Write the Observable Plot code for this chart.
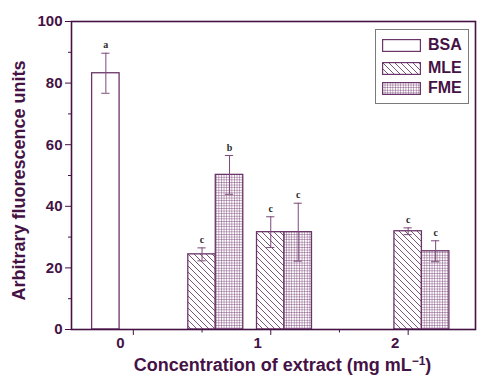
<!DOCTYPE html>
<html><head><meta charset="utf-8">
<script src="https://cdn.jsdelivr.net/npm/d3@7"></script>
<script src="https://cdn.jsdelivr.net/npm/@observablehq/plot@0.6"></script>
<style>
body{margin:0;background:#fff;}
#wrap{position:relative;width:496px;height:383px;font-family:"Liberation Sans",Arial,sans-serif;}
#legend{position:absolute;left:375px;top:29px;width:92px;height:73px;border:1.5px solid #7a7a7a;background:#fff;}
.item{position:absolute;left:6px;height:14px;display:flex;align-items:center;}
.item span{margin-left:7px;font-weight:bold;font-size:16px;color:#451245;line-height:14px;}
</style>
</head><body><div id="wrap"></div>
<script>
// ---- data ----
const concentrations = [0, 0.5, 1, 2];
const seriesNames = ["BSA", "MLE", "FME"];
const bsaValues = [83.2, null, null, null];
const bsaErrors = [6.5, null, null, null];
const bsaLetters = ["a", null, null, null];
const mleValues = [null, 24.4, 31.6, 31.9];
const mleErrors = [null, 2.1, 5.0, 1.1];
const mleLetters = [null, "c", "c", "c"];
const fmeValues = [null, 50.2, 31.6, 25.4];
const fmeErrors = [null, 6.3, 9.4, 3.4];
const fmeLetters = [null, "b", "c", "c"];
const xTickLabels = [0, 1, 2];
const xMinorTicks = [0.5, 1.5];
const yTickLabels = [0, 20, 40, 60, 80, 100];
const yMinorTicks = [10, 30, 50, 70, 90];

// ---- layout ----
const seriesOffset = {BSA: -0.2, MLE: 0, FME: 0.2};
const half = 0.1, cap = 0.03;
const fills = {BSA: "#ffffff", MLE: "url(#hatchMLE)", FME: "url(#gridFME)"};
const ink = "#451245", barStroke = "#6a3568";

const values = {BSA: bsaValues, MLE: mleValues, FME: fmeValues};
const errors = {BSA: bsaErrors, MLE: mleErrors, FME: fmeErrors};
const letters = {BSA: bsaLetters, MLE: mleLetters, FME: fmeLetters};
const rows = [];
for (const s of seriesNames) {
  concentrations.forEach((c, i) => {
    if (values[s][i] == null) return;
    const cx = c + seriesOffset[s];
    rows.push({series: s, c, cx, x1: cx - half, x2: cx + half, v: values[s][i], e: errors[s][i], letter: letters[s][i]});
  });
}

const plot = Plot.plot({
  width: 496, height: 383,
  marginLeft: 71, marginRight: 21, marginTop: 21, marginBottom: 54,
  style: {color: ink, fontFamily: '"Liberation Sans", Arial, sans-serif', background: "#fff"},
  x: {domain: [-0.45, 2.49]},
  y: {domain: [0, 100]},
  marks: [
    Plot.rectY(rows, {x1: "x1", x2: "x2", y1: 0, y2: "v", fill: d => fills[d.series], stroke: barStroke, strokeWidth: 1.3}),
    Plot.ruleX(rows, {x: "cx", y1: d => d.v - d.e, y2: d => d.v + d.e, stroke: "#7a4a78", strokeWidth: 1}),
    Plot.ruleY(rows, {x1: d => d.cx - cap, x2: d => d.cx + cap, y: d => d.v + d.e, stroke: "#7a4a78", strokeWidth: 1}),
    Plot.ruleY(rows, {x1: d => d.cx - cap, x2: d => d.cx + cap, y: d => d.v - d.e, stroke: "#7a4a78", strokeWidth: 1}),
    Plot.text(rows, {x: "cx", y: d => d.v + d.e, text: "letter", dy: -8, fontFamily: '"Liberation Serif", "Times New Roman", serif', fontWeight: "bold", fontSize: 10, fill: "#2a2a2a"}),
    Plot.axisY({ticks: yTickLabels, tickSize: 6, tickPadding: 3, fontSize: 15, fontWeight: "bold", label: null}),
    Plot.axisY({ticks: yMinorTicks, tickSize: 3, text: null, label: null}),
    Plot.axisX({ticks: xTickLabels, tickSize: 6, text: null, label: null}),
    Plot.axisX({ticks: xMinorTicks, tickSize: 3.5, text: null, label: null}),
    Plot.axisX({ticks: xTickLabels, tickSize: 0, tickPadding: 8, dx: -13, fontSize: 15, fontWeight: "bold", label: null, tickFormat: d => String(d)}),
    Plot.frame({stroke: ink, strokeWidth: 1.6}),
    Plot.text(["Arbitrary fluorescence units"], {frameAnchor: "left", textAnchor: "middle", lineAnchor: "middle", dx: -52, dy: 5, rotate: -90, fontSize: 18, fontWeight: "bold", fill: ink}),
    Plot.text(["Concentration of extract (mg mL\u207B\u00B9)"], {frameAnchor: "bottom", textAnchor: "middle", lineAnchor: "middle", dy: 36, dx: 9, fontSize: 18, fontWeight: "bold", fill: ink, className: "xtitle"})
  ]
});

// patterns
const defs = d3.select(plot).insert("defs", ":first-child");
const hatch = defs.append("pattern").attr("id", "hatchMLE").attr("patternUnits", "userSpaceOnUse").attr("width", 6).attr("height", 6);
hatch.append("rect").attr("width", 6).attr("height", 6).attr("fill", "#fff");
hatch.append("path").attr("d", "M0,0L6,6M-1,5L1,7M5,-1L7,1").attr("stroke", "#5a2a58").attr("stroke-width", 0.8);
const grid = defs.append("pattern").attr("id", "gridFME").attr("patternUnits", "userSpaceOnUse").attr("width", 2.6).attr("height", 2.6);
grid.append("rect").attr("width", 2.6).attr("height", 2.6).attr("fill", "#fff");
grid.append("path").attr("d", "M0,0H2.6M0,0V2.6").attr("stroke", "#6a2d68").attr("stroke-width", 0.8);

// x title superscript styling
const xt = plot.querySelector(".xtitle text");
if (xt) {
  xt.textContent = "";
  const add = (t, attrs) => { const ts = document.createElementNS("http://www.w3.org/2000/svg", "tspan"); ts.textContent = t; for (const k in attrs) ts.setAttribute(k, attrs[k]); xt.appendChild(ts); return ts; };
  add("Concentration of extract ", {});
  add("(mg mL", {});
  add("\u2212\u0031", {"font-size": "12", "dy": "-6"});
  add(")", {"dy": "6"});
}

const wrap = document.getElementById("wrap");
wrap.appendChild(plot);

// legend
const legend = document.createElement("div");
legend.id = "legend";
const tops = [8, 31, 51];
seriesNames.forEach((s, i) => {
  const it = document.createElement("div");
  it.className = "item";
  it.style.top = tops[i] + "px";
  it.innerHTML = `<svg width="39" height="13"><rect x="0.6" y="0.6" width="37.8" height="11.8" fill="${fills[s]}" stroke="${barStroke}" stroke-width="1.2"/></svg><span>${s}</span>`;
  legend.appendChild(it);
});
wrap.appendChild(legend);
</script>
</body></html>
